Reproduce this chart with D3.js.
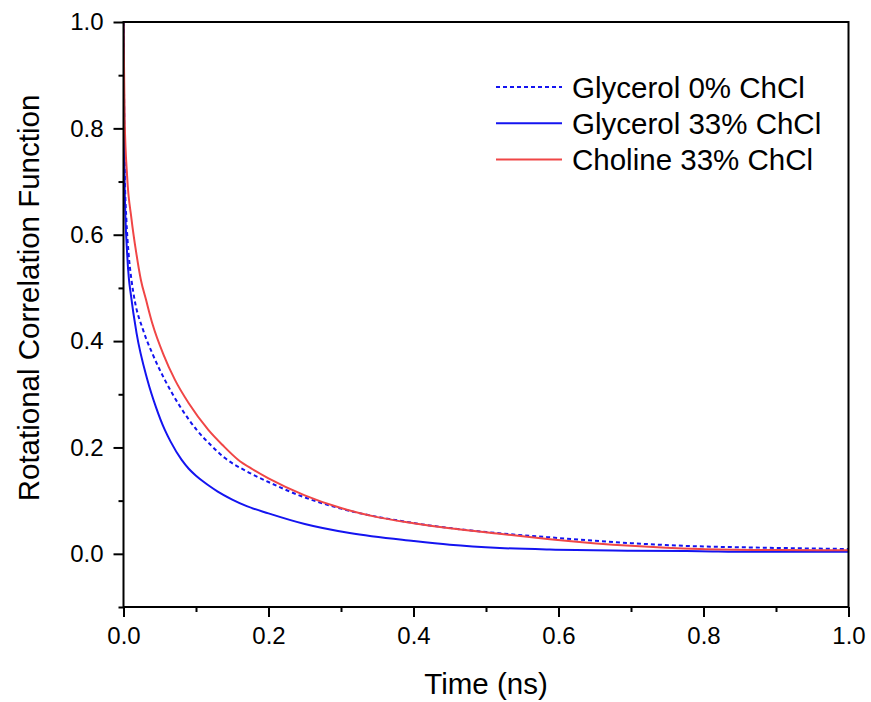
<!DOCTYPE html>
<html>
<head>
<meta charset="utf-8">
<script src="https://cdn.jsdelivr.net/npm/d3@7"></script>
<style>
  body { margin: 0; background: #fff; }
  text { font-family: "Liberation Sans", Arial, sans-serif; fill: #000; }
</style>
</head>
<body>
<svg id="chart" width="871" height="702"></svg>
<script>
// values
const glycerol0T = [0, 0.002, 0.004, 0.007, 0.011, 0.0154, 0.027, 0.04, 0.057, 0.078, 0.101, 0.12, 0.14, 0.17, 0.2, 0.25, 0.3, 0.4, 0.5, 0.588, 0.7, 0.795, 0.864, 1.0];
const glycerol0V = [1.0, 0.70, 0.628, 0.565, 0.515, 0.477, 0.421, 0.376, 0.327, 0.277, 0.233, 0.205, 0.18, 0.155, 0.135, 0.106, 0.085, 0.058, 0.041, 0.031, 0.02, 0.014, 0.012, 0.009];

const glycerol33T = [0, 0.0016, 0.005, 0.0076, 0.0094, 0.018, 0.033, 0.045, 0.057, 0.065, 0.08, 0.09, 0.1, 0.11, 0.119, 0.13, 0.15, 0.17, 0.2, 0.25, 0.312, 0.4, 0.45, 0.519, 0.588, 0.7, 0.795, 0.864, 1.0];
const glycerol33V = [1.0, 0.69, 0.565, 0.515, 0.495, 0.415, 0.327, 0.275, 0.233, 0.211, 0.177, 0.16, 0.147, 0.136, 0.127, 0.117, 0.102, 0.0896, 0.076, 0.056, 0.039, 0.024, 0.017, 0.011, 0.008, 0.006, 0.005, 0.004, 0.004];

const choline33T = [0, 0.0016, 0.005, 0.011, 0.0177, 0.024, 0.031, 0.04, 0.055, 0.071, 0.09, 0.117, 0.137, 0.158, 0.178, 0.2, 0.25, 0.3, 0.35, 0.4, 0.45, 0.519, 0.588, 0.7, 0.795, 0.9, 1.0];
const choline33V = [1.0, 0.816, 0.71, 0.63, 0.565, 0.515, 0.478, 0.432, 0.375, 0.327, 0.283, 0.233, 0.204, 0.177, 0.159, 0.142, 0.11, 0.086, 0.069, 0.0576, 0.048, 0.0376, 0.0276, 0.015, 0.009, 0.007, 0.0065];

const seriesNames = ["Glycerol 0% ChCl", "Glycerol 33% ChCl", "Choline 33% ChCl"];
const xTicks = [0, 0.2, 0.4, 0.6, 0.8, 1.0];
const xMinor = [0.1, 0.3, 0.5, 0.7, 0.9];
const yTicks = [0, 0.2, 0.4, 0.6, 0.8, 1.0];
const yMinor = [-0.1, 0.1, 0.3, 0.5, 0.7, 0.9];

const svg = d3.select("#chart");
const plotLeft = 123.5, plotRight = 848.5, plotTop = 22, plotBottom = 607;

const x = d3.scaleLinear().domain([0, 1]).range([plotLeft, plotRight]);
const y = d3.scaleLinear().domain([-0.1, 1.0]).range([plotBottom, plotTop]);

const series = [
  { name: seriesNames[0], t: glycerol0T, v: glycerol0V, color: "#1414f0", dash: "4,3" },
  { name: seriesNames[1], t: glycerol33T, v: glycerol33V, color: "#1414f0", dash: null },
  { name: seriesNames[2], t: choline33T, v: choline33V, color: "#f04646", dash: null }
];

svg.append("clipPath").attr("id", "clip")
  .append("rect").attr("x", plotLeft).attr("y", plotTop)
  .attr("width", plotRight - plotLeft).attr("height", plotBottom - plotTop);

const line = d3.line()
  .x(d => x(d[0]))
  .y(d => y(d[1]))
  .curve(d3.curveMonotoneX);

svg.append("g").attr("clip-path", "url(#clip)")
  .selectAll("path")
  .data(series)
  .enter()
  .append("path")
  .attr("d", s => line(s.t.map((t, i) => [t, s.v[i]])))
  .attr("fill", "none")
  .attr("stroke", s => s.color)
  .attr("stroke-width", 2)
  .attr("stroke-dasharray", s => s.dash);

// frame
svg.append("rect")
  .attr("x", plotLeft).attr("y", plotTop)
  .attr("width", plotRight - plotLeft).attr("height", plotBottom - plotTop)
  .attr("fill", "none").attr("stroke", "#000").attr("stroke-width", 2);

// x axis
const gx = svg.append("g").attr("transform", `translate(0,${plotBottom})`)
  .call(d3.axisBottom(x).tickValues(xTicks).tickFormat(d3.format(".1f")).tickSize(10).tickPadding(10));
gx.select(".domain").remove();
gx.selectAll(".tick line").attr("stroke-width", 2);
gx.selectAll("text").attr("font-size", 24).style("font-family", "Liberation Sans, Arial, sans-serif");
const gxm = svg.append("g").attr("transform", `translate(0,${plotBottom})`)
  .call(d3.axisBottom(x).tickValues(xMinor).tickFormat("").tickSize(5));
gxm.select(".domain").remove();
gxm.selectAll(".tick line").attr("stroke-width", 2);

// y axis
const gy = svg.append("g").attr("transform", `translate(${plotLeft},0)`)
  .call(d3.axisLeft(y).tickValues(yTicks).tickFormat(d3.format(".1f")).tickSize(10).tickPadding(10));
gy.select(".domain").remove();
gy.selectAll(".tick line").attr("stroke-width", 2);
gy.selectAll("text").attr("font-size", 24).style("font-family", "Liberation Sans, Arial, sans-serif");
const gym = svg.append("g").attr("transform", `translate(${plotLeft},0)`)
  .call(d3.axisLeft(y).tickValues(yMinor).tickFormat("").tickSize(5));
gym.select(".domain").remove();
gym.selectAll(".tick line").attr("stroke-width", 2);

// titles
svg.append("text")
  .attr("x", (plotLeft + plotRight) / 2).attr("y", 694)
  .attr("text-anchor", "middle").attr("font-size", 29.5)
  .text("Time (ns)");

svg.append("text")
  .attr("transform", `translate(39,298) rotate(-90)`)
  .attr("text-anchor", "middle").attr("font-size", 29.5)
  .text("Rotational Correlation Function");

// legend
const legend = svg.append("g").selectAll("g")
  .data(series)
  .enter()
  .append("g")
  .attr("transform", (d, i) => `translate(496,${87 + i * 36.3})`);

legend.append("line")
  .attr("x1", 0).attr("x2", 66).attr("y1", 0).attr("y2", 0)
  .attr("stroke", d => d.color).attr("stroke-width", 2)
  .attr("stroke-dasharray", d => d.dash);

legend.append("text")
  .attr("x", 76).attr("y", 10.5)
  .attr("font-size", 29.5)
  .text(d => d.name);
</script>
</body>
</html>
